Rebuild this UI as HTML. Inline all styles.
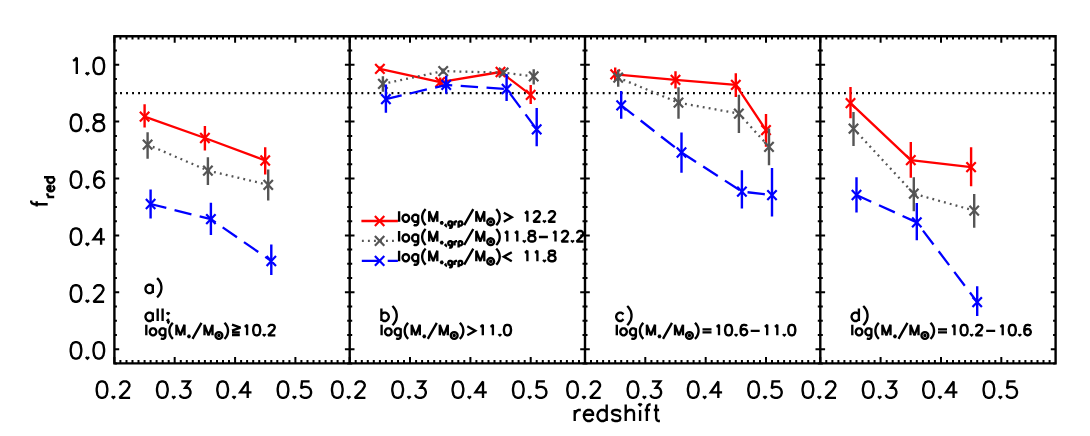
<!DOCTYPE html><html><head><meta charset="utf-8"><title>f_red vs redshift</title><style>html,body{margin:0;padding:0;background:#fff;font-family:"Liberation Sans",sans-serif}svg{display:block}</style></head><body>
<svg width="1090" height="436" viewBox="0 0 1090 436" fill="none" stroke-linecap="butt" stroke-linejoin="round">
<rect width="1090" height="436" fill="#fff"/>
<path d="M114.4 93.2H349.7" stroke="#000" stroke-width="2.3" stroke-dasharray="1.9 4.12" stroke-dashoffset="0.37"/>
<path d="M349.7 93.2H585" stroke="#000" stroke-width="2.3" stroke-dasharray="1.9 4.12" stroke-dashoffset="0.37"/>
<path d="M585 93.2H820.3" stroke="#000" stroke-width="2.3" stroke-dasharray="1.9 4.12" stroke-dashoffset="0.37"/>
<path d="M820.3 93.2H1055.6" stroke="#000" stroke-width="2.3" stroke-dasharray="1.9 4.12" stroke-dashoffset="0.37"/>
<path d="M114.4 363.4v-6.5M114.4 36.3v6.5M120.4 363.4v-3.3M120.4 36.3v3.3M126.5 363.4v-3.3M126.5 36.3v3.3M132.5 363.4v-3.3M132.5 36.3v3.3M138.5 363.4v-3.3M138.5 36.3v3.3M144.6 363.4v-3.3M144.6 36.3v3.3M150.6 363.4v-3.3M150.6 36.3v3.3M156.6 363.4v-3.3M156.6 36.3v3.3M162.7 363.4v-3.3M162.7 36.3v3.3M168.7 363.4v-3.3M168.7 36.3v3.3M174.7 363.4v-6.5M174.7 36.3v6.5M180.8 363.4v-3.3M180.8 36.3v3.3M186.8 363.4v-3.3M186.8 36.3v3.3M192.8 363.4v-3.3M192.8 36.3v3.3M198.9 363.4v-3.3M198.9 36.3v3.3M204.9 363.4v-3.3M204.9 36.3v3.3M210.9 363.4v-3.3M210.9 36.3v3.3M217 363.4v-3.3M217 36.3v3.3M223 363.4v-3.3M223 36.3v3.3M229 363.4v-3.3M229 36.3v3.3M235.1 363.4v-6.5M235.1 36.3v6.5M241.1 363.4v-3.3M241.1 36.3v3.3M247.1 363.4v-3.3M247.1 36.3v3.3M253.2 363.4v-3.3M253.2 36.3v3.3M259.2 363.4v-3.3M259.2 36.3v3.3M265.2 363.4v-3.3M265.2 36.3v3.3M271.3 363.4v-3.3M271.3 36.3v3.3M277.3 363.4v-3.3M277.3 36.3v3.3M283.3 363.4v-3.3M283.3 36.3v3.3M289.4 363.4v-3.3M289.4 36.3v3.3M295.4 363.4v-6.5M295.4 36.3v6.5M301.4 363.4v-3.3M301.4 36.3v3.3M307.5 363.4v-3.3M307.5 36.3v3.3M313.5 363.4v-3.3M313.5 36.3v3.3M319.5 363.4v-3.3M319.5 36.3v3.3M325.6 363.4v-3.3M325.6 36.3v3.3M331.6 363.4v-3.3M331.6 36.3v3.3M337.6 363.4v-3.3M337.6 36.3v3.3M343.7 363.4v-3.3M343.7 36.3v3.3M114.4 363.4h2.5M349.7 363.4h-2.5M114.4 349.2h4.8M349.7 349.2h-4.8M114.4 335h2.5M349.7 335h-2.5M114.4 320.7h2.5M349.7 320.7h-2.5M114.4 306.5h2.5M349.7 306.5h-2.5M114.4 292.3h4.8M349.7 292.3h-4.8M114.4 278.1h2.5M349.7 278.1h-2.5M114.4 263.8h2.5M349.7 263.8h-2.5M114.4 249.6h2.5M349.7 249.6h-2.5M114.4 235.4h4.8M349.7 235.4h-4.8M114.4 221.2h2.5M349.7 221.2h-2.5M114.4 207h2.5M349.7 207h-2.5M114.4 192.7h2.5M349.7 192.7h-2.5M114.4 178.5h4.8M349.7 178.5h-4.8M114.4 164.3h2.5M349.7 164.3h-2.5M114.4 150.1h2.5M349.7 150.1h-2.5M114.4 135.9h2.5M349.7 135.9h-2.5M114.4 121.6h4.8M349.7 121.6h-4.8M114.4 107.4h2.5M349.7 107.4h-2.5M114.4 93.2h2.5M349.7 93.2h-2.5M114.4 79h2.5M349.7 79h-2.5M114.4 64.7h4.8M349.7 64.7h-4.8M114.4 50.5h2.5M349.7 50.5h-2.5M114.4 36.3h2.5M349.7 36.3h-2.5M349.7 363.4v-6.5M349.7 36.3v6.5M355.7 363.4v-3.3M355.7 36.3v3.3M361.8 363.4v-3.3M361.8 36.3v3.3M367.8 363.4v-3.3M367.8 36.3v3.3M373.8 363.4v-3.3M373.8 36.3v3.3M379.9 363.4v-3.3M379.9 36.3v3.3M385.9 363.4v-3.3M385.9 36.3v3.3M391.9 363.4v-3.3M391.9 36.3v3.3M398 363.4v-3.3M398 36.3v3.3M404 363.4v-3.3M404 36.3v3.3M410 363.4v-6.5M410 36.3v6.5M416.1 363.4v-3.3M416.1 36.3v3.3M422.1 363.4v-3.3M422.1 36.3v3.3M428.1 363.4v-3.3M428.1 36.3v3.3M434.2 363.4v-3.3M434.2 36.3v3.3M440.2 363.4v-3.3M440.2 36.3v3.3M446.2 363.4v-3.3M446.2 36.3v3.3M452.3 363.4v-3.3M452.3 36.3v3.3M458.3 363.4v-3.3M458.3 36.3v3.3M464.3 363.4v-3.3M464.3 36.3v3.3M470.4 363.4v-6.5M470.4 36.3v6.5M476.4 363.4v-3.3M476.4 36.3v3.3M482.4 363.4v-3.3M482.4 36.3v3.3M488.5 363.4v-3.3M488.5 36.3v3.3M494.5 363.4v-3.3M494.5 36.3v3.3M500.5 363.4v-3.3M500.5 36.3v3.3M506.6 363.4v-3.3M506.6 36.3v3.3M512.6 363.4v-3.3M512.6 36.3v3.3M518.6 363.4v-3.3M518.6 36.3v3.3M524.7 363.4v-3.3M524.7 36.3v3.3M530.7 363.4v-6.5M530.7 36.3v6.5M536.7 363.4v-3.3M536.7 36.3v3.3M542.8 363.4v-3.3M542.8 36.3v3.3M548.8 363.4v-3.3M548.8 36.3v3.3M554.8 363.4v-3.3M554.8 36.3v3.3M560.9 363.4v-3.3M560.9 36.3v3.3M566.9 363.4v-3.3M566.9 36.3v3.3M572.9 363.4v-3.3M572.9 36.3v3.3M579 363.4v-3.3M579 36.3v3.3M349.7 363.4h2.5M585 363.4h-2.5M349.7 349.2h4.8M585 349.2h-4.8M349.7 335h2.5M585 335h-2.5M349.7 320.7h2.5M585 320.7h-2.5M349.7 306.5h2.5M585 306.5h-2.5M349.7 292.3h4.8M585 292.3h-4.8M349.7 278.1h2.5M585 278.1h-2.5M349.7 263.8h2.5M585 263.8h-2.5M349.7 249.6h2.5M585 249.6h-2.5M349.7 235.4h4.8M585 235.4h-4.8M349.7 221.2h2.5M585 221.2h-2.5M349.7 207h2.5M585 207h-2.5M349.7 192.7h2.5M585 192.7h-2.5M349.7 178.5h4.8M585 178.5h-4.8M349.7 164.3h2.5M585 164.3h-2.5M349.7 150.1h2.5M585 150.1h-2.5M349.7 135.9h2.5M585 135.9h-2.5M349.7 121.6h4.8M585 121.6h-4.8M349.7 107.4h2.5M585 107.4h-2.5M349.7 93.2h2.5M585 93.2h-2.5M349.7 79h2.5M585 79h-2.5M349.7 64.7h4.8M585 64.7h-4.8M349.7 50.5h2.5M585 50.5h-2.5M349.7 36.3h2.5M585 36.3h-2.5M585 363.4v-6.5M585 36.3v6.5M591 363.4v-3.3M591 36.3v3.3M597.1 363.4v-3.3M597.1 36.3v3.3M603.1 363.4v-3.3M603.1 36.3v3.3M609.1 363.4v-3.3M609.1 36.3v3.3M615.2 363.4v-3.3M615.2 36.3v3.3M621.2 363.4v-3.3M621.2 36.3v3.3M627.2 363.4v-3.3M627.2 36.3v3.3M633.3 363.4v-3.3M633.3 36.3v3.3M639.3 363.4v-3.3M639.3 36.3v3.3M645.3 363.4v-6.5M645.3 36.3v6.5M651.4 363.4v-3.3M651.4 36.3v3.3M657.4 363.4v-3.3M657.4 36.3v3.3M663.4 363.4v-3.3M663.4 36.3v3.3M669.5 363.4v-3.3M669.5 36.3v3.3M675.5 363.4v-3.3M675.5 36.3v3.3M681.5 363.4v-3.3M681.5 36.3v3.3M687.6 363.4v-3.3M687.6 36.3v3.3M693.6 363.4v-3.3M693.6 36.3v3.3M699.6 363.4v-3.3M699.6 36.3v3.3M705.7 363.4v-6.5M705.7 36.3v6.5M711.7 363.4v-3.3M711.7 36.3v3.3M717.7 363.4v-3.3M717.7 36.3v3.3M723.8 363.4v-3.3M723.8 36.3v3.3M729.8 363.4v-3.3M729.8 36.3v3.3M735.8 363.4v-3.3M735.8 36.3v3.3M741.9 363.4v-3.3M741.9 36.3v3.3M747.9 363.4v-3.3M747.9 36.3v3.3M753.9 363.4v-3.3M753.9 36.3v3.3M760 363.4v-3.3M760 36.3v3.3M766 363.4v-6.5M766 36.3v6.5M772 363.4v-3.3M772 36.3v3.3M778.1 363.4v-3.3M778.1 36.3v3.3M784.1 363.4v-3.3M784.1 36.3v3.3M790.1 363.4v-3.3M790.1 36.3v3.3M796.2 363.4v-3.3M796.2 36.3v3.3M802.2 363.4v-3.3M802.2 36.3v3.3M808.2 363.4v-3.3M808.2 36.3v3.3M814.3 363.4v-3.3M814.3 36.3v3.3M585 363.4h2.5M820.3 363.4h-2.5M585 349.2h4.8M820.3 349.2h-4.8M585 335h2.5M820.3 335h-2.5M585 320.7h2.5M820.3 320.7h-2.5M585 306.5h2.5M820.3 306.5h-2.5M585 292.3h4.8M820.3 292.3h-4.8M585 278.1h2.5M820.3 278.1h-2.5M585 263.8h2.5M820.3 263.8h-2.5M585 249.6h2.5M820.3 249.6h-2.5M585 235.4h4.8M820.3 235.4h-4.8M585 221.2h2.5M820.3 221.2h-2.5M585 207h2.5M820.3 207h-2.5M585 192.7h2.5M820.3 192.7h-2.5M585 178.5h4.8M820.3 178.5h-4.8M585 164.3h2.5M820.3 164.3h-2.5M585 150.1h2.5M820.3 150.1h-2.5M585 135.9h2.5M820.3 135.9h-2.5M585 121.6h4.8M820.3 121.6h-4.8M585 107.4h2.5M820.3 107.4h-2.5M585 93.2h2.5M820.3 93.2h-2.5M585 79h2.5M820.3 79h-2.5M585 64.7h4.8M820.3 64.7h-4.8M585 50.5h2.5M820.3 50.5h-2.5M585 36.3h2.5M820.3 36.3h-2.5M820.3 363.4v-6.5M820.3 36.3v6.5M826.3 363.4v-3.3M826.3 36.3v3.3M832.4 363.4v-3.3M832.4 36.3v3.3M838.4 363.4v-3.3M838.4 36.3v3.3M844.4 363.4v-3.3M844.4 36.3v3.3M850.5 363.4v-3.3M850.5 36.3v3.3M856.5 363.4v-3.3M856.5 36.3v3.3M862.5 363.4v-3.3M862.5 36.3v3.3M868.6 363.4v-3.3M868.6 36.3v3.3M874.6 363.4v-3.3M874.6 36.3v3.3M880.6 363.4v-6.5M880.6 36.3v6.5M886.7 363.4v-3.3M886.7 36.3v3.3M892.7 363.4v-3.3M892.7 36.3v3.3M898.7 363.4v-3.3M898.7 36.3v3.3M904.8 363.4v-3.3M904.8 36.3v3.3M910.8 363.4v-3.3M910.8 36.3v3.3M916.8 363.4v-3.3M916.8 36.3v3.3M922.9 363.4v-3.3M922.9 36.3v3.3M928.9 363.4v-3.3M928.9 36.3v3.3M934.9 363.4v-3.3M934.9 36.3v3.3M941 363.4v-6.5M941 36.3v6.5M947 363.4v-3.3M947 36.3v3.3M953 363.4v-3.3M953 36.3v3.3M959.1 363.4v-3.3M959.1 36.3v3.3M965.1 363.4v-3.3M965.1 36.3v3.3M971.1 363.4v-3.3M971.1 36.3v3.3M977.2 363.4v-3.3M977.2 36.3v3.3M983.2 363.4v-3.3M983.2 36.3v3.3M989.2 363.4v-3.3M989.2 36.3v3.3M995.3 363.4v-3.3M995.3 36.3v3.3M1001.3 363.4v-6.5M1001.3 36.3v6.5M1007.3 363.4v-3.3M1007.3 36.3v3.3M1013.4 363.4v-3.3M1013.4 36.3v3.3M1019.4 363.4v-3.3M1019.4 36.3v3.3M1025.4 363.4v-3.3M1025.4 36.3v3.3M1031.5 363.4v-3.3M1031.5 36.3v3.3M1037.5 363.4v-3.3M1037.5 36.3v3.3M1043.5 363.4v-3.3M1043.5 36.3v3.3M1049.6 363.4v-3.3M1049.6 36.3v3.3M820.3 363.4h2.5M1055.6 363.4h-2.5M820.3 349.2h4.8M1055.6 349.2h-4.8M820.3 335h2.5M1055.6 335h-2.5M820.3 320.7h2.5M1055.6 320.7h-2.5M820.3 306.5h2.5M1055.6 306.5h-2.5M820.3 292.3h4.8M1055.6 292.3h-4.8M820.3 278.1h2.5M1055.6 278.1h-2.5M820.3 263.8h2.5M1055.6 263.8h-2.5M820.3 249.6h2.5M1055.6 249.6h-2.5M820.3 235.4h4.8M1055.6 235.4h-4.8M820.3 221.2h2.5M1055.6 221.2h-2.5M820.3 207h2.5M1055.6 207h-2.5M820.3 192.7h2.5M1055.6 192.7h-2.5M820.3 178.5h4.8M1055.6 178.5h-4.8M820.3 164.3h2.5M1055.6 164.3h-2.5M820.3 150.1h2.5M1055.6 150.1h-2.5M820.3 135.9h2.5M1055.6 135.9h-2.5M820.3 121.6h4.8M1055.6 121.6h-4.8M820.3 107.4h2.5M1055.6 107.4h-2.5M820.3 93.2h2.5M1055.6 93.2h-2.5M820.3 79h2.5M1055.6 79h-2.5M820.3 64.7h4.8M1055.6 64.7h-4.8M820.3 50.5h2.5M1055.6 50.5h-2.5M820.3 36.3h2.5M1055.6 36.3h-2.5" stroke="#000" stroke-width="2.0"/>
<path d="M114.4 36.3H349.7V363.4H114.4ZM349.7 36.3H585V363.4H349.7ZM585 36.3H820.3V363.4H585ZM820.3 36.3H1055.6V363.4H820.3Z" stroke="#000" stroke-width="2.4" stroke-linejoin="miter"/>
<path d="M144.6 104.3V127.6M204.9 126V150.6M265.2 147.2V174.6" stroke="#ff0000" stroke-width="2.4"/>
<path d="M139.9 111.7L149.3 121.5M139.9 121.5L149.3 111.7M200.2 133.1L209.6 142.9M200.2 142.9L209.6 133.1M260.5 155.6L269.9 165.4M260.5 165.4L269.9 155.6" stroke="#ff0000" stroke-width="2.2"/>
<path d="M144.6 116.6L204.9 138L265.2 160.5" stroke="#ff0000" stroke-width="2.3"/>
<path d="M147.6 132.2V158.8M207.9 157.3V184.9M268.2 169.6V200.5" stroke="#555555" stroke-width="2.4"/>
<path d="M142.9 139.8L152.3 149.6M142.9 149.6L152.3 139.8M203.2 165.7L212.6 175.5M203.2 175.5L212.6 165.7M263.6 179.9L272.9 189.7M263.6 189.7L272.9 179.9" stroke="#555555" stroke-width="2.2"/>
<path d="M147.6 144.7L207.9 170.6L268.2 184.8" stroke="#555555" stroke-width="2.3" stroke-dasharray="1.9 4.12" stroke-dashoffset="0.37"/>
<path d="M150.6 189.5V218.4M210.9 202.7V235.1M271.3 244.5V275" stroke="#0000ff" stroke-width="2.4"/>
<path d="M145.9 199.1L155.3 208.9M145.9 208.9L155.3 199.1M206.2 214.3L215.6 224.1M206.2 224.1L215.6 214.3M266.6 256.1L276 265.9M266.6 265.9L276 256.1" stroke="#0000ff" stroke-width="2.2"/>
<path d="M150.6 204L210.9 219.2L271.3 261" stroke="#0000ff" stroke-width="2.3" stroke-dasharray="17.4 8.5" stroke-dashoffset="1.2"/>
<path d="M379.9 66.5V71.1M440.2 77.5V86.7M500.5 68.5V75.5M530.7 85.1V104.1" stroke="#ff0000" stroke-width="2.4"/>
<path d="M375.2 63.9L384.6 73.7M375.2 73.7L384.6 63.9M435.5 77.2L444.9 87M435.5 87L444.9 77.2M495.8 67.1L505.2 76.9M495.8 76.9L505.2 67.1M526 89.9L535.4 99.7M526 99.7L535.4 89.9" stroke="#ff0000" stroke-width="2.2"/>
<path d="M379.9 68.8L440.2 82.1L500.5 72L530.7 94.8" stroke="#ff0000" stroke-width="2.3"/>
<path d="M382.9 76.2V91.8M443.2 68.5V73.7M503.6 70V75.4M533.7 69.3V84.4" stroke="#555555" stroke-width="2.4"/>
<path d="M378.2 79L387.6 88.8M378.2 88.8L387.6 79M438.5 66.2L447.9 76M438.5 76L447.9 66.2M498.9 67.8L508.3 77.6M498.9 77.6L508.3 67.8M529 71.5L538.4 81.3M529 81.3L538.4 71.5" stroke="#555555" stroke-width="2.2"/>
<path d="M382.9 83.9L443.2 71.1L503.6 72.7L533.7 76.4" stroke="#555555" stroke-width="2.3" stroke-dasharray="1.9 4.12" stroke-dashoffset="0.37"/>
<path d="M385.9 84.5V112.8M446.2 75.7V93.7M506.6 74.1V101M536.7 108V146.3" stroke="#0000ff" stroke-width="2.4"/>
<path d="M381.2 94.3L390.6 104.1M381.2 104.1L390.6 94.3M441.5 80L450.9 89.8M441.5 89.8L450.9 80M501.9 84.1L511.3 93.9M501.9 93.9L511.3 84.1M532 124.5L541.4 134.3M532 134.3L541.4 124.5" stroke="#0000ff" stroke-width="2.2"/>
<path d="M385.9 99.2L446.2 84.9L506.6 89L536.7 129.4" stroke="#0000ff" stroke-width="2.3" stroke-dasharray="17.4 8.5" stroke-dashoffset="1.2"/>
<path d="M615.2 67.6V81M675.5 71.2V88.5M735.8 73.2V97M766 114.1V146.8" stroke="#ff0000" stroke-width="2.4"/>
<path d="M610.5 69.4L619.9 79.2M610.5 79.2L619.9 69.4M670.8 74.9L680.2 84.7M670.8 84.7L680.2 74.9M731.1 80L740.5 89.8M731.1 89.8L740.5 80M761.3 125.2L770.7 135M761.3 135L770.7 125.2" stroke="#ff0000" stroke-width="2.2"/>
<path d="M615.2 74.3L675.5 79.8L735.8 84.9L766 130.1" stroke="#ff0000" stroke-width="2.3"/>
<path d="M618.2 69.7V86.8M678.5 87.3V118.7M738.9 94.7V133M769 128.4V165.3" stroke="#555555" stroke-width="2.4"/>
<path d="M613.5 72.7L622.9 82.5M613.5 82.5L622.9 72.7M673.8 97.8L683.2 107.6M673.8 107.6L683.2 97.8M734.1 108.7L743.6 118.5M734.1 118.5L743.6 108.7M764.3 141.9L773.7 151.7M764.3 151.7L773.7 141.9" stroke="#555555" stroke-width="2.2"/>
<path d="M618.2 77.6L678.5 102.7L738.9 113.6L769 146.8" stroke="#555555" stroke-width="2.3" stroke-dasharray="1.9 4.12" stroke-dashoffset="0.37"/>
<path d="M621.2 91V118.7M681.5 132.5V172.8M741.9 170.2V208.6M772 167.9V216.6" stroke="#0000ff" stroke-width="2.4"/>
<path d="M616.5 100.4L625.9 110.2M616.5 110.2L625.9 100.4M676.8 147.6L686.2 157.4M676.8 157.4L686.2 147.6M737.2 186.7L746.6 196.5M737.2 196.5L746.6 186.7M767.3 190.2L776.7 200M767.3 200L776.7 190.2" stroke="#0000ff" stroke-width="2.2"/>
<path d="M621.2 105.3L681.5 152.5L741.9 191.6L772 195.1" stroke="#0000ff" stroke-width="2.3" stroke-dasharray="17.4 8.5" stroke-dashoffset="1.2"/>
<path d="M850.5 87.1V118.2M910.8 142V177.8M971.1 147.3V186.3" stroke="#ff0000" stroke-width="2.4"/>
<path d="M845.8 98.3L855.2 108.1M845.8 108.1L855.2 98.3M906.1 155.3L915.5 165.1M906.1 165.1L915.5 155.3M966.4 162.2L975.8 172M966.4 172L975.8 162.2" stroke="#ff0000" stroke-width="2.2"/>
<path d="M850.5 103.2L910.8 160.2L971.1 167.1" stroke="#ff0000" stroke-width="2.3"/>
<path d="M853.5 112V146.1M913.8 177.3V211.3M974.2 193.9V227.8" stroke="#555555" stroke-width="2.4"/>
<path d="M848.8 123.7L858.2 133.5M848.8 133.5L858.2 123.7M909.1 188.8L918.5 198.6M909.1 198.6L918.5 188.8M969.5 205.7L978.9 215.5M969.5 215.5L978.9 205.7" stroke="#555555" stroke-width="2.2"/>
<path d="M853.5 128.6L913.8 193.7L974.2 210.6" stroke="#555555" stroke-width="2.3" stroke-dasharray="1.9 4.12" stroke-dashoffset="0.37"/>
<path d="M856.5 177.3V212.6M916.8 203V240.3M977.2 286.2V316" stroke="#0000ff" stroke-width="2.4"/>
<path d="M851.8 190.1L861.2 199.9M851.8 199.9L861.2 190.1M912.1 217.5L921.5 227.3M912.1 227.3L921.5 217.5M972.5 297.2L981.9 307M972.5 307L981.9 297.2" stroke="#0000ff" stroke-width="2.2"/>
<path d="M856.5 195L916.8 222.4L977.2 302.1" stroke="#0000ff" stroke-width="2.3" stroke-dasharray="17.4 8.5" stroke-dashoffset="1.2"/>
<path d="M361.4 221H397.9" stroke="#ff0000" stroke-width="2.3"/>
<path d="M374.9 216.1L384.3 225.9M374.9 225.9L384.3 216.1" stroke="#ff0000" stroke-width="2.2"/>
<path d="M361.4 240.9H397.9" stroke="#555555" stroke-width="2.3" stroke-dasharray="1.9 4.12" stroke-dashoffset="-0.5"/>
<path d="M374.9 236L384.3 245.8M374.9 245.8L384.3 236" stroke="#555555" stroke-width="2.2"/>
<path d="M361.4 260.9H397.9" stroke="#0000ff" stroke-width="2.3" stroke-dasharray="17.4 8.5" stroke-dashoffset="-0.4"/>
<path d="M374.9 256L384.3 265.8M374.9 265.8L384.3 256" stroke="#0000ff" stroke-width="2.2"/>
<path d="M97.4 384.6 96.7 388.5 96.7 390.8 97.4 394.8 99 397.1 101.2 397.9 102.8 397.9 105 397.1 106.6 394.8 107.3 390.8 107.3 388.5 106.6 384.6 105 382.2 102.8 381.4 101.2 381.4 99 382.2ZM113.4 396.3 112.6 397.1 113.4 397.9 114.2 397.1 113.4 396.3M130.1 397.9 119.5 397.9 127.1 390 128.6 387.7 129.4 386.1 129.4 384.6 128.6 383 127.8 382.2 126.3 381.4 123.3 381.4 121.8 382.2 121 383 120.2 384.6 120.2 385.3M157.8 384.6 157 388.5 157 390.8 157.8 394.8 159.3 397.1 161.6 397.9 163.1 397.9 165.4 397.1 166.9 394.8 167.7 390.8 167.7 388.5 166.9 384.6 165.4 382.2 163.1 381.4 161.6 381.4 159.3 382.2ZM173.7 396.3 173 397.1 173.7 397.9 174.5 397.1 173.7 396.3M181.3 381.4 189.7 381.4 185.1 387.7 187.4 387.7 188.9 388.5 189.7 389.3 190.5 391.6 190.5 393.2 189.7 395.5 188.2 397.1 185.9 397.9 183.6 397.9 181.3 397.1 180.6 396.3 179.8 394.8M218.1 384.6 217.3 388.5 217.3 390.8 218.1 394.8 219.6 397.1 221.9 397.9 223.4 397.9 225.7 397.1 227.2 394.8 228 390.8 228 388.5 227.2 384.6 225.7 382.2 223.4 381.4 221.9 381.4 219.6 382.2ZM234.1 396.3 233.3 397.1 234.1 397.9 234.8 397.1 234.1 396.3M247.7 397.9 247.7 381.4 240.1 392.4 251.5 392.4M278.4 384.6 277.7 388.5 277.7 390.8 278.4 394.8 280 397.1 282.2 397.9 283.8 397.9 286 397.1 287.6 394.8 288.3 390.8 288.3 388.5 287.6 384.6 286 382.2 283.8 381.4 282.2 381.4 280 382.2ZM294.4 396.3 293.6 397.1 294.4 397.9 295.2 397.1 294.4 396.3M309.6 381.4 302 381.4 301.2 388.5 302 387.7 304.3 386.9 306.6 386.9 308.8 387.7 310.4 389.3 311.1 391.6 311.1 393.2 310.4 395.5 308.8 397.1 306.6 397.9 304.3 397.9 302 397.1 301.2 396.3 300.5 394.8M332.7 384.6 332 388.5 332 390.8 332.7 394.8 334.3 397.1 336.5 397.9 338.1 397.9 340.3 397.1 341.9 394.8 342.6 390.8 342.6 388.5 341.9 384.6 340.3 382.2 338.1 381.4 336.5 381.4 334.3 382.2ZM348.7 396.3 347.9 397.1 348.7 397.9 349.5 397.1 348.7 396.3M365.4 397.9 354.8 397.9 362.4 390 363.9 387.7 364.7 386.1 364.7 384.6 363.9 383 363.1 382.2 361.6 381.4 358.6 381.4 357.1 382.2 356.3 383 355.5 384.6 355.5 385.3M393.1 384.6 392.3 388.5 392.3 390.8 393.1 394.8 394.6 397.1 396.9 397.9 398.4 397.9 400.7 397.1 402.2 394.8 403 390.8 403 388.5 402.2 384.6 400.7 382.2 398.4 381.4 396.9 381.4 394.6 382.2ZM409 396.3 408.3 397.1 409 397.9 409.8 397.1 409 396.3M416.6 381.4 425 381.4 420.4 387.7 422.7 387.7 424.2 388.5 425 389.3 425.8 391.6 425.8 393.2 425 395.5 423.5 397.1 421.2 397.9 418.9 397.9 416.6 397.1 415.9 396.3 415.1 394.8M453.4 384.6 452.6 388.5 452.6 390.8 453.4 394.8 454.9 397.1 457.2 397.9 458.7 397.9 461 397.1 462.5 394.8 463.3 390.8 463.3 388.5 462.5 384.6 461 382.2 458.7 381.4 457.2 381.4 454.9 382.2ZM469.4 396.3 468.6 397.1 469.4 397.9 470.1 397.1 469.4 396.3M483 397.9 483 381.4 475.4 392.4 486.8 392.4M513.7 384.6 513 388.5 513 390.8 513.7 394.8 515.3 397.1 517.5 397.9 519.1 397.9 521.3 397.1 522.9 394.8 523.6 390.8 523.6 388.5 522.9 384.6 521.3 382.2 519.1 381.4 517.5 381.4 515.3 382.2ZM529.7 396.3 528.9 397.1 529.7 397.9 530.5 397.1 529.7 396.3M544.9 381.4 537.3 381.4 536.5 388.5 537.3 387.7 539.6 386.9 541.9 386.9 544.1 387.7 545.7 389.3 546.4 391.6 546.4 393.2 545.7 395.5 544.1 397.1 541.9 397.9 539.6 397.9 537.3 397.1 536.5 396.3 535.8 394.8M568 384.6 567.3 388.5 567.3 390.8 568 394.8 569.6 397.1 571.8 397.9 573.4 397.9 575.6 397.1 577.2 394.8 577.9 390.8 577.9 388.5 577.2 384.6 575.6 382.2 573.4 381.4 571.8 381.4 569.6 382.2ZM584 396.3 583.2 397.1 584 397.9 584.8 397.1 584 396.3M600.7 397.9 590.1 397.9 597.7 390 599.2 387.7 600 386.1 600 384.6 599.2 383 598.4 382.2 596.9 381.4 593.9 381.4 592.4 382.2 591.6 383 590.8 384.6 590.8 385.3M628.4 384.6 627.6 388.5 627.6 390.8 628.4 394.8 629.9 397.1 632.2 397.9 633.7 397.9 636 397.1 637.5 394.8 638.3 390.8 638.3 388.5 637.5 384.6 636 382.2 633.7 381.4 632.2 381.4 629.9 382.2ZM644.3 396.3 643.6 397.1 644.3 397.9 645.1 397.1 644.3 396.3M651.9 381.4 660.3 381.4 655.7 387.7 658 387.7 659.5 388.5 660.3 389.3 661.1 391.6 661.1 393.2 660.3 395.5 658.8 397.1 656.5 397.9 654.2 397.9 651.9 397.1 651.2 396.3 650.4 394.8M688.7 384.6 687.9 388.5 687.9 390.8 688.7 394.8 690.2 397.1 692.5 397.9 694 397.9 696.3 397.1 697.8 394.8 698.6 390.8 698.6 388.5 697.8 384.6 696.3 382.2 694 381.4 692.5 381.4 690.2 382.2ZM704.7 396.3 703.9 397.1 704.7 397.9 705.4 397.1 704.7 396.3M718.3 397.9 718.3 381.4 710.7 392.4 722.1 392.4M749 384.6 748.3 388.5 748.3 390.8 749 394.8 750.6 397.1 752.8 397.9 754.4 397.9 756.6 397.1 758.2 394.8 758.9 390.8 758.9 388.5 758.2 384.6 756.6 382.2 754.4 381.4 752.8 381.4 750.6 382.2ZM765 396.3 764.2 397.1 765 397.9 765.8 397.1 765 396.3M780.2 381.4 772.6 381.4 771.8 388.5 772.6 387.7 774.9 386.9 777.2 386.9 779.4 387.7 781 389.3 781.7 391.6 781.7 393.2 781 395.5 779.4 397.1 777.2 397.9 774.9 397.9 772.6 397.1 771.8 396.3 771.1 394.8M803.3 384.6 802.6 388.5 802.6 390.8 803.3 394.8 804.9 397.1 807.1 397.9 808.7 397.9 810.9 397.1 812.5 394.8 813.2 390.8 813.2 388.5 812.5 384.6 810.9 382.2 808.7 381.4 807.1 381.4 804.9 382.2ZM819.3 396.3 818.5 397.1 819.3 397.9 820.1 397.1 819.3 396.3M836 397.9 825.4 397.9 833 390 834.5 387.7 835.3 386.1 835.3 384.6 834.5 383 833.7 382.2 832.2 381.4 829.2 381.4 827.7 382.2 826.9 383 826.1 384.6 826.1 385.3M863.7 384.6 862.9 388.5 862.9 390.8 863.7 394.8 865.2 397.1 867.5 397.9 869 397.9 871.3 397.1 872.8 394.8 873.6 390.8 873.6 388.5 872.8 384.6 871.3 382.2 869 381.4 867.5 381.4 865.2 382.2ZM879.6 396.3 878.9 397.1 879.6 397.9 880.4 397.1 879.6 396.3M887.2 381.4 895.6 381.4 891 387.7 893.3 387.7 894.8 388.5 895.6 389.3 896.4 391.6 896.4 393.2 895.6 395.5 894.1 397.1 891.8 397.9 889.5 397.9 887.2 397.1 886.5 396.3 885.7 394.8M924 384.6 923.2 388.5 923.2 390.8 924 394.8 925.5 397.1 927.8 397.9 929.3 397.9 931.6 397.1 933.1 394.8 933.9 390.8 933.9 388.5 933.1 384.6 931.6 382.2 929.3 381.4 927.8 381.4 925.5 382.2ZM940 396.3 939.2 397.1 940 397.9 940.7 397.1 940 396.3M953.6 397.9 953.6 381.4 946 392.4 957.4 392.4M984.3 384.6 983.6 388.5 983.6 390.8 984.3 394.8 985.9 397.1 988.1 397.9 989.7 397.9 991.9 397.1 993.5 394.8 994.2 390.8 994.2 388.5 993.5 384.6 991.9 382.2 989.7 381.4 988.1 381.4 985.9 382.2ZM1000.3 396.3 999.5 397.1 1000.3 397.9 1001.1 397.1 1000.3 396.3M1015.5 381.4 1007.9 381.4 1007.1 388.5 1007.9 387.7 1010.2 386.9 1012.5 386.9 1014.7 387.7 1016.3 389.3 1017 391.6 1017 393.2 1016.3 395.5 1014.7 397.1 1012.5 397.9 1010.2 397.9 1007.9 397.1 1007.1 396.3 1006.4 394.8M71.4 345.2 70.7 349.2 70.7 351.5 71.4 355.4 73 357.8 75.2 358.6 76.8 358.6 79 357.8 80.6 355.4 81.3 351.5 81.3 349.2 80.6 345.2 79 342.9 76.8 342.1 75.2 342.1 73 342.9ZM87.4 357 86.6 357.8 87.4 358.6 88.2 357.8 87.4 357M94.2 345.2 93.5 349.2 93.5 351.5 94.2 355.4 95.8 357.8 98 358.6 99.6 358.6 101.8 357.8 103.4 355.4 104.1 351.5 104.1 349.2 103.4 345.2 101.8 342.9 99.6 342.1 98 342.1 95.8 342.9ZM71.4 288.3 70.7 292.3 70.7 294.6 71.4 298.6 73 300.9 75.2 301.7 76.8 301.7 79 300.9 80.6 298.6 81.3 294.6 81.3 292.3 80.6 288.3 79 286 76.8 285.2 75.2 285.2 73 286ZM87.4 300.1 86.6 300.9 87.4 301.7 88.2 300.9 87.4 300.1M104.1 301.7 93.5 301.7 101.1 293.8 102.6 291.5 103.4 289.9 103.4 288.3 102.6 286.8 101.8 286 100.3 285.2 97.3 285.2 95.8 286 95 286.8 94.2 288.3 94.2 289.1M71.4 231.5 70.7 235.4 70.7 237.7 71.4 241.7 73 244 75.2 244.8 76.8 244.8 79 244 80.6 241.7 81.3 237.7 81.3 235.4 80.6 231.5 79 229.1 76.8 228.3 75.2 228.3 73 229.1ZM87.4 243.2 86.6 244 87.4 244.8 88.2 244 87.4 243.2M101.1 244.8 101.1 228.3 93.5 239.3 104.9 239.3M71.4 174.6 70.7 178.5 70.7 180.9 71.4 184.8 73 187.1 75.2 187.9 76.8 187.9 79 187.1 80.6 184.8 81.3 180.9 81.3 178.5 80.6 174.6 79 172.2 76.8 171.4 75.2 171.4 73 172.2ZM87.4 186.3 86.6 187.1 87.4 187.9 88.2 187.1 87.4 186.3M94.2 182.4 94.2 178.5 95 174.6 96.5 172.2 98.8 171.4 100.3 171.4 102.6 172.2 103.4 173.8M94.2 182.4 95 185.6 96.5 187.1 98.8 187.9 99.6 187.9 101.8 187.1 103.4 185.6 104.1 183.2 104.1 182.4 103.4 180.1 101.8 178.5 99.6 177.7 98.8 177.7 96.5 178.5 95 180.1ZM71.4 117.7 70.7 121.6 70.7 124 71.4 127.9 73 130.2 75.2 131 76.8 131 79 130.2 80.6 127.9 81.3 124 81.3 121.6 80.6 117.7 79 115.3 76.8 114.5 75.2 114.5 73 115.3ZM87.4 129.5 86.6 130.2 87.4 131 88.2 130.2 87.4 129.5M96.5 120.8 99.6 121.6 101.8 122.4 103.4 124 104.1 125.5 104.1 127.9 103.4 129.5 102.6 130.2 100.3 131 97.3 131 95 130.2 94.2 129.5 93.5 127.9 93.5 125.5 94.2 124 95.8 122.4 98 121.6 101.1 120.8 102.6 120 103.4 118.5 103.4 116.9 102.6 115.3 100.3 114.5 97.3 114.5 95 115.3 94.2 116.9 94.2 118.5 95 120ZM76.8 74.1 76.8 57.7 74.5 60 73 60.8M87.4 72.6 86.6 73.4 87.4 74.1 88.2 73.4 87.4 72.6M94.2 60.8 93.5 64.7 93.5 67.1 94.2 71 95.8 73.4 98 74.1 99.6 74.1 101.8 73.4 103.4 71 104.1 67.1 104.1 64.7 103.4 60.8 101.8 58.4 99.6 57.7 98 57.7 95.8 58.4ZM574.7 410 574.7 421M574.7 414.7 575.5 412.4 577 410.8 578.5 410 580.8 410M583.9 414.7 593 414.7 593 413.1 592.2 411.6 591.5 410.8 589.9 410 587.7 410 586.1 410.8 584.6 412.4 583.9 414.7 583.9 416.3 584.6 418.6 586.1 420.2 587.7 421 589.9 421 591.5 420.2 593 418.6M606.7 404.5 606.7 421M606.7 412.4 605.1 410.8 603.6 410 601.3 410 599.8 410.8 598.3 412.4 597.5 414.7 597.5 416.3 598.3 418.6 599.8 420.2 601.3 421 603.6 421 605.1 420.2 606.7 418.6M620.3 412.4 619.6 410.8 617.3 410 615 410 612.7 410.8 612 412.4 612.7 413.9 614.3 414.7 618.1 415.5 619.6 416.3 620.3 417.9 620.3 418.6 619.6 420.2 617.3 421 615 421 612.7 420.2 612 418.6M625.7 404.5 625.7 421M634 421 634 413.1 633.3 410.8 631.7 410 629.5 410 627.9 410.8 625.7 413.1M640.1 410 640.1 421M640.1 403.7 639.3 404.5 640.1 405.3 640.9 404.5 640.1 403.7M646.9 421 646.9 407.7 647.7 405.3 649.2 404.5 650.7 404.5M644.7 410 650 410M656.1 404.5 656.1 417.9 656.8 420.2 658.3 421 659.9 421M653.8 410 659.1 410" stroke="#000" stroke-width="2.35" stroke-linejoin="miter" stroke-miterlimit="2.5"/>
<path d="M3.8 0 3.8 -13.3 4.6 -15.7 6.1 -16.5 7.6 -16.5M1.5 -11 6.8 -11M11 -0.3 11 6.5M11 2.6 11.5 1.1 12.4 0.2 13.4 -0.3 14.8 -0.3M16.7 2.6 22.3 2.6 22.3 1.6 21.8 0.7 21.4 0.2 20.4 -0.3 19 -0.3 18.1 0.2 17.1 1.1 16.7 2.6 16.7 3.6 17.1 5 18.1 6 19 6.5 20.4 6.5 21.4 6 22.3 5M30.8 -3.7 30.8 6.5M30.8 1.1 29.9 0.2 28.9 -0.3 27.5 -0.3 26.6 0.2 25.6 1.1 25.1 2.6 25.1 3.6 25.6 5 26.6 6 27.5 6.5 28.9 6.5 29.9 6 30.8 5" transform="translate(47.7 208.0) rotate(-90)" stroke="#000" stroke-width="2.35" stroke-linejoin="miter" stroke-miterlimit="2.5"/>
<path d="M399.1 211.2 399.1 221.7M403.1 216.2 402.6 217.7 402.6 218.7 403.1 220.2 404.1 221.2 405.1 221.7 406.6 221.7 407.6 221.2 408.6 220.2 409.1 218.7 409.1 217.7 408.6 216.2 407.6 215.2 406.6 214.7 405.1 214.7 404.1 215.2ZM418.2 214.7 418.2 222.7 417.7 224.2 417.2 224.7 416.2 225.2 414.7 225.2 413.7 224.7M418.2 216.2 417.2 215.2 416.2 214.7 414.7 214.7 413.7 215.2 412.7 216.2 412.2 217.7 412.2 218.7 412.7 220.2 413.7 221.2 414.7 221.7 416.2 221.7 417.2 221.2 418.2 220.2M425.7 209.2 424.7 210.2 423.7 211.7 422.7 213.7 422.2 216.2 422.2 218.2 422.7 220.7 423.7 222.7 424.7 224.2 425.7 225.2M429.2 221.7 429.2 211.2 433.2 221.7 437.3 211.2 437.3 221.7M441.8 220.9 441.8 224.7M440.2 221.9 443.3 223.7M443.3 221.9 440.2 223.7M446.1 225.3 446.1 225.9 445.8 226.5 445.5 226.8M446.1 225.3 445.8 225 445.5 225.3 445.8 225.6 446.1 225.3M452 221.3 452 226.2 451.7 227.2 451.4 227.5 450.8 227.8 449.9 227.8 449.2 227.5M452 222.2 451.4 221.6 450.8 221.3 449.9 221.3 449.2 221.6 448.6 222.2 448.3 223.1 448.3 223.7 448.6 224.7 449.2 225.3 449.9 225.6 450.8 225.6 451.4 225.3 452 224.7M454.5 221.3 454.5 225.6M454.5 223.1 454.8 222.2 455.5 221.6 456.1 221.3 457 221.3M458.6 221.3 458.6 227.8M458.6 222.2 459.2 221.6 459.8 221.3 460.7 221.3 461.4 221.6 462 222.2 462.3 223.1 462.3 223.7 462 224.7 461.4 225.3 460.7 225.6 459.8 225.6 459.2 225.3 458.6 224.7M473.3 209.2 464.2 225.2M476.3 221.7 476.3 211.2 480.3 221.7 484.3 211.2 484.3 221.7M494.1 221.9 493.8 223.2 493.1 224.3 492 225 490.7 225.3 489.4 225 488.3 224.3 487.5 223.2 487.3 221.9 487.5 220.6 488.3 219.5 489.4 218.7 490.7 218.5 492 218.7 493.1 219.5 493.8 220.6ZM491.2 221.9 491.1 222.3 490.7 222.4 490.3 222.3 490.2 221.9 490.3 221.5 490.7 221.4 491.1 221.5ZM496.2 209.2 497.2 210.2 498.2 211.7 499.2 213.7 499.7 216.2 499.7 218.2 499.2 220.7 498.2 222.7 497.2 224.2 496.2 225.2M503.8 212.7 511.8 217.2 503.8 221.7M527.4 221.7 527.4 211.2 525.9 212.7 524.8 213.2M540.4 221.7 533.4 221.7 538.4 216.7 539.4 215.2 539.9 214.2 539.9 213.2 539.4 212.2 538.9 211.7 537.9 211.2 535.9 211.2 534.9 211.7 534.4 212.2 533.9 213.2 533.9 213.7M544.4 220.7 543.9 221.2 544.4 221.7 544.9 221.2 544.4 220.7M555.5 221.7 548.4 221.7 553.5 216.7 554.5 215.2 555 214.2 555 213.2 554.5 212.2 554 211.7 553 211.2 551 211.2 549.9 211.7 549.4 212.2 548.9 213.2 548.9 213.7M399.1 231 399.1 241.5M403.1 236 402.6 237.5 402.6 238.5 403.1 240 404.1 241 405.1 241.5 406.6 241.5 407.6 241 408.6 240 409.1 238.5 409.1 237.5 408.6 236 407.6 235 406.6 234.5 405.1 234.5 404.1 235ZM418.2 234.5 418.2 242.5 417.7 244 417.2 244.5 416.2 245 414.7 245 413.7 244.5M418.2 236 417.2 235 416.2 234.5 414.7 234.5 413.7 235 412.7 236 412.2 237.5 412.2 238.5 412.7 240 413.7 241 414.7 241.5 416.2 241.5 417.2 241 418.2 240M425.7 229 424.7 230 423.7 231.5 422.7 233.5 422.2 236 422.2 238 422.7 240.5 423.7 242.5 424.7 244 425.7 245M429.2 241.5 429.2 231 433.2 241.5 437.3 231 437.3 241.5M441.8 240.8 441.8 244.5M440.2 241.7 443.3 243.5M443.3 241.7 440.2 243.5M446.1 245.1 446.1 245.7 445.8 246.3 445.5 246.6M446.1 245.1 445.8 244.8 445.5 245.1 445.8 245.4 446.1 245.1M452 241.1 452 246 451.7 247 451.4 247.3 450.8 247.6 449.9 247.6 449.2 247.3M452 242 451.4 241.4 450.8 241.1 449.9 241.1 449.2 241.4 448.6 242 448.3 242.9 448.3 243.5 448.6 244.5 449.2 245.1 449.9 245.4 450.8 245.4 451.4 245.1 452 244.5M454.5 241.1 454.5 245.4M454.5 242.9 454.8 242 455.5 241.4 456.1 241.1 457 241.1M458.6 241.1 458.6 247.6M458.6 242 459.2 241.4 459.8 241.1 460.7 241.1 461.4 241.4 462 242 462.3 242.9 462.3 243.5 462 244.5 461.4 245.1 460.7 245.4 459.8 245.4 459.2 245.1 458.6 244.5M473.3 229 464.2 245M476.3 241.5 476.3 231 480.3 241.5 484.3 231 484.3 241.5M494.1 241.7 493.8 243 493.1 244.1 492 244.8 490.7 245.1 489.4 244.8 488.3 244.1 487.5 243 487.3 241.7 487.5 240.4 488.3 239.3 489.4 238.5 490.7 238.3 492 238.5 493.1 239.3 493.8 240.4ZM491.2 241.7 491.1 242.1 490.7 242.2 490.3 242.1 490.2 241.7 490.3 241.3 490.7 241.2 491.1 241.3ZM496.2 229 497.2 230 498.2 231.5 499.2 233.5 499.7 236 499.7 238 499.2 240.5 498.2 242.5 497.2 244 496.2 245M507.3 241.5 507.3 231 505.8 232.5 504.8 233M517.3 241.5 517.3 231 515.8 232.5 514.8 233M524.3 240.5 523.8 241 524.3 241.5 524.8 241 524.3 240.5M530.4 235 532.4 235.5 533.9 236 534.9 237 535.4 238 535.4 239.5 534.9 240.5 534.4 241 532.9 241.5 530.9 241.5 529.4 241 528.9 240.5 528.4 239.5 528.4 238 528.9 237 529.9 236 531.4 235.5 533.4 235 534.4 234.5 534.9 233.5 534.9 232.5 534.4 231.5 532.9 231 530.9 231 529.4 231.5 528.9 232.5 528.9 233.5 529.4 234.5ZM538.9 237 547.9 237M555.5 241.5 555.5 231 554 232.5 553 233M568.5 241.5 561.5 241.5 566.5 236.5 567.5 235 568 234 568 233 567.5 232 567 231.5 566 231 564 231 563 231.5 562.5 232 562 233 562 233.5M572.5 240.5 572 241 572.5 241.5 573 241 572.5 240.5M583.6 241.5 576.6 241.5 581.6 236.5 582.6 235 583.1 234 583.1 233 582.6 232 582.1 231.5 581.1 231 579.1 231 578.1 231.5 577.6 232 577.1 233 577.1 233.5M399.1 250.7 399.1 261.2M403.1 255.7 402.6 257.2 402.6 258.2 403.1 259.7 404.1 260.7 405.1 261.2 406.6 261.2 407.6 260.7 408.6 259.7 409.1 258.2 409.1 257.2 408.6 255.7 407.6 254.7 406.6 254.2 405.1 254.2 404.1 254.7ZM418.2 254.2 418.2 262.2 417.7 263.7 417.2 264.2 416.2 264.7 414.7 264.7 413.7 264.2M418.2 255.7 417.2 254.7 416.2 254.2 414.7 254.2 413.7 254.7 412.7 255.7 412.2 257.2 412.2 258.2 412.7 259.7 413.7 260.7 414.7 261.2 416.2 261.2 417.2 260.7 418.2 259.7M425.7 248.7 424.7 249.7 423.7 251.2 422.7 253.2 422.2 255.7 422.2 257.7 422.7 260.2 423.7 262.2 424.7 263.7 425.7 264.7M429.2 261.2 429.2 250.7 433.2 261.2 437.3 250.7 437.3 261.2M441.8 260.4 441.8 264.2M440.2 261.4 443.3 263.2M443.3 261.4 440.2 263.2M446.1 264.8 446.1 265.4 445.8 266 445.5 266.3M446.1 264.8 445.8 264.5 445.5 264.8 445.8 265.1 446.1 264.8M452 260.8 452 265.7 451.7 266.6 451.4 267 450.8 267.3 449.9 267.3 449.2 267M452 261.7 451.4 261.1 450.8 260.8 449.9 260.8 449.2 261.1 448.6 261.7 448.3 262.6 448.3 263.2 448.6 264.2 449.2 264.8 449.9 265.1 450.8 265.1 451.4 264.8 452 264.2M454.5 260.8 454.5 265.1M454.5 262.6 454.8 261.7 455.5 261.1 456.1 260.8 457 260.8M458.6 260.8 458.6 267.3M458.6 261.7 459.2 261.1 459.8 260.8 460.7 260.8 461.4 261.1 462 261.7 462.3 262.6 462.3 263.2 462 264.2 461.4 264.8 460.7 265.1 459.8 265.1 459.2 264.8 458.6 264.2M473.3 248.7 464.2 264.7M476.3 261.2 476.3 250.7 480.3 261.2 484.3 250.7 484.3 261.2M494.1 261.4 493.8 262.7 493.1 263.8 492 264.5 490.7 264.8 489.4 264.5 488.3 263.8 487.5 262.7 487.3 261.4 487.5 260.1 488.3 259 489.4 258.2 490.7 258 492 258.2 493.1 259 493.8 260.1ZM491.2 261.4 491.1 261.8 490.7 261.9 490.3 261.8 490.2 261.4 490.3 261 490.7 260.9 491.1 261ZM496.2 248.7 497.2 249.7 498.2 251.2 499.2 253.2 499.7 255.7 499.7 257.7 499.2 260.2 498.2 262.2 497.2 263.7 496.2 264.7M511.8 252.2 503.8 256.7 511.8 261.2M527.4 261.2 527.4 250.7 525.9 252.2 524.8 252.7M537.4 261.2 537.4 250.7 535.9 252.2 534.9 252.7M544.4 260.2 543.9 260.7 544.4 261.2 544.9 260.7 544.4 260.2M550.5 254.7 552.5 255.2 554 255.7 555 256.7 555.5 257.7 555.5 259.2 555 260.2 554.5 260.7 553 261.2 551 261.2 549.4 260.7 548.9 260.2 548.4 259.2 548.4 257.7 548.9 256.7 549.9 255.7 551.5 255.2 553.5 254.7 554.5 254.2 555 253.2 555 252.2 554.5 251.2 553 250.7 551 250.7 549.4 251.2 548.9 252.2 548.9 253.2 549.4 254.2ZM152.8 284.7 152.8 293.1M152.8 286.5 151.6 285.3 150.4 284.7 148.6 284.7 147.4 285.3 146.1 286.5 145.5 288.3 145.5 289.5 146.1 291.3 147.4 292.5 148.6 293.1 150.4 293.1 151.6 292.5 152.8 291.3M157.1 278.1 158.3 279.3 159.6 281.1 160.8 283.5 161.4 286.5 161.4 288.9 160.8 291.9 159.6 294.3 158.3 296.1 157.1 297.3M152.8 312.6 152.8 321M152.8 314.4 151.6 313.2 150.4 312.6 148.6 312.6 147.4 313.2 146.1 314.4 145.5 316.2 145.5 317.4 146.1 319.2 147.4 320.4 148.6 321 150.4 321 151.6 320.4 152.8 319.2M157.7 308.4 157.7 321M162.6 308.4 162.6 321M168.7 320.4 168.7 321.6 168.1 322.8 167.5 323.4M168.7 320.4 168.1 319.8 167.5 320.4 168.1 321 168.7 320.4M168.1 312.6 167.5 313.2 168.1 313.8 168.7 313.2 168.1 312.6M146.3 324.8 146.3 335.3M150.3 329.8 149.8 331.3 149.8 332.3 150.3 333.8 151.3 334.8 152.3 335.3 153.8 335.3 154.8 334.8 155.8 333.8 156.3 332.3 156.3 331.3 155.8 329.8 154.8 328.8 153.8 328.3 152.3 328.3 151.3 328.8ZM165.4 328.3 165.4 336.3 164.9 337.8 164.4 338.3 163.4 338.8 161.9 338.8 160.9 338.3M165.4 329.8 164.4 328.8 163.4 328.3 161.9 328.3 160.9 328.8 159.9 329.8 159.4 331.3 159.4 332.3 159.9 333.8 160.9 334.8 161.9 335.3 163.4 335.3 164.4 334.8 165.4 333.8M172.9 322.8 171.9 323.8 170.9 325.3 169.9 327.3 169.4 329.8 169.4 331.8 169.9 334.3 170.9 336.3 171.9 337.8 172.9 338.8M176.4 335.3 176.4 324.8 180.4 335.3 184.5 324.8 184.5 335.3M189 334.6 189 338.3M187.4 335.5 190.5 337.3M190.5 335.5 187.4 337.3M201.5 322.8 192.5 338.8M204.5 335.3 204.5 324.8 208.5 335.3 212.5 324.8 212.5 335.3M222.3 335.5 222.1 336.8 221.3 337.9 220.2 338.6 218.9 338.9 217.6 338.6 216.5 337.9 215.7 336.8 215.5 335.5 215.7 334.2 216.5 333.1 217.6 332.3 218.9 332.1 220.2 332.3 221.3 333.1 222.1 334.2ZM219.4 335.5 219.3 335.9 218.9 336 218.5 335.9 218.4 335.5 218.5 335.1 218.9 335 219.3 335.1ZM224.4 322.8 225.5 323.8 226.5 325.3 227.5 327.3 228 329.8 228 331.8 227.5 334.3 226.5 336.3 225.5 337.8 224.4 338.8M232 324.6 240.5 327.6 232 330.6M232 332.5 239.8 332.5M232 335.1 239.8 335.1M247.1 335.3 247.1 324.8 245.6 326.3 244.6 326.8M253.7 326.8 253.2 329.3 253.2 330.8 253.7 333.3 254.7 334.8 256.2 335.3 257.2 335.3 258.7 334.8 259.7 333.3 260.2 330.8 260.2 329.3 259.7 326.8 258.7 325.3 257.2 324.8 256.2 324.8 254.7 325.3ZM264.2 334.3 263.7 334.8 264.2 335.3 264.7 334.8 264.2 334.3M275.3 335.3 268.2 335.3 273.2 330.3 274.2 328.8 274.7 327.8 274.7 326.8 274.2 325.8 273.7 325.3 272.7 324.8 270.7 324.8 269.7 325.3 269.2 325.8 268.7 326.8 268.7 327.3M381.4 308.4 381.4 321M381.4 314.4 382.7 313.2 383.9 312.6 385.7 312.6 386.9 313.2 388.1 314.4 388.8 316.2 388.8 317.4 388.1 319.2 386.9 320.4 385.7 321 383.9 321 382.7 320.4 381.4 319.2M392.4 306 393.6 307.2 394.9 309 396.1 311.4 396.7 314.4 396.7 316.8 396.1 319.8 394.9 322.2 393.6 324 392.4 325.2M381.6 324.8 381.6 335.3M385.6 329.8 385.1 331.3 385.1 332.3 385.6 333.8 386.6 334.8 387.6 335.3 389.1 335.3 390.1 334.8 391.1 333.8 391.6 332.3 391.6 331.3 391.1 329.8 390.1 328.8 389.1 328.3 387.6 328.3 386.6 328.8ZM400.7 328.3 400.7 336.3 400.2 337.8 399.7 338.3 398.7 338.8 397.2 338.8 396.2 338.3M400.7 329.8 399.7 328.8 398.7 328.3 397.2 328.3 396.2 328.8 395.2 329.8 394.7 331.3 394.7 332.3 395.2 333.8 396.2 334.8 397.2 335.3 398.7 335.3 399.7 334.8 400.7 333.8M408.2 322.8 407.2 323.8 406.2 325.3 405.2 327.3 404.7 329.8 404.7 331.8 405.2 334.3 406.2 336.3 407.2 337.8 408.2 338.8M411.7 335.3 411.7 324.8 415.7 335.3 419.8 324.8 419.8 335.3M424.3 334.6 424.3 338.3M422.7 335.5 425.8 337.3M425.8 335.5 422.7 337.3M436.8 322.8 427.8 338.8M439.8 335.3 439.8 324.8 443.8 335.3 447.8 324.8 447.8 335.3M457.6 335.5 457.4 336.8 456.6 337.9 455.5 338.6 454.2 338.9 452.9 338.6 451.8 337.9 451 336.8 450.8 335.5 451 334.2 451.8 333.1 452.9 332.3 454.2 332.1 455.5 332.3 456.6 333.1 457.4 334.2ZM454.7 335.5 454.6 335.9 454.2 336 453.8 335.9 453.7 335.5 453.8 335.1 454.2 335 454.6 335.1ZM459.7 322.8 460.8 323.8 461.8 325.3 462.8 327.3 463.3 329.8 463.3 331.8 462.8 334.3 461.8 336.3 460.8 337.8 459.7 338.8M467.3 326.3 475.3 330.8 467.3 335.3M482.8 335.3 482.8 324.8 481.3 326.3 480.3 326.8M492.9 335.3 492.9 324.8 491.4 326.3 490.4 326.8M499.9 334.3 499.4 334.8 499.9 335.3 500.4 334.8 499.9 334.3M504.4 326.8 503.9 329.3 503.9 330.8 504.4 333.3 505.4 334.8 506.9 335.3 507.9 335.3 509.4 334.8 510.5 333.3 511 330.8 511 329.3 510.5 326.8 509.4 325.3 507.9 324.8 506.9 324.8 505.4 325.3ZM623.5 314.4 622.3 313.2 621.1 312.6 619.3 312.6 618.1 313.2 616.8 314.4 616.2 316.2 616.2 317.4 616.8 319.2 618.1 320.4 619.3 321 621.1 321 622.3 320.4 623.5 319.2M627.2 306 628.4 307.2 629.6 309 630.9 311.4 631.5 314.4 631.5 316.8 630.9 319.8 629.6 322.2 628.4 324 627.2 325.2M616.8 324.8 616.8 335.3M620.8 329.8 620.3 331.3 620.3 332.3 620.8 333.8 621.8 334.8 622.8 335.3 624.3 335.3 625.3 334.8 626.3 333.8 626.8 332.3 626.8 331.3 626.3 329.8 625.3 328.8 624.3 328.3 622.8 328.3 621.8 328.8ZM635.9 328.3 635.9 336.3 635.4 337.8 634.9 338.3 633.9 338.8 632.4 338.8 631.4 338.3M635.9 329.8 634.9 328.8 633.9 328.3 632.4 328.3 631.4 328.8 630.4 329.8 629.9 331.3 629.9 332.3 630.4 333.8 631.4 334.8 632.4 335.3 633.9 335.3 634.9 334.8 635.9 333.8M643.4 322.8 642.4 323.8 641.4 325.3 640.4 327.3 639.9 329.8 639.9 331.8 640.4 334.3 641.4 336.3 642.4 337.8 643.4 338.8M646.9 335.3 646.9 324.8 650.9 335.3 655 324.8 655 335.3M659.5 334.6 659.5 338.3M657.9 335.5 661 337.3M661 335.5 657.9 337.3M672 322.8 663 338.8M675 335.3 675 324.8 679 335.3 683 324.8 683 335.3M692.8 335.5 692.6 336.8 691.8 337.9 690.7 338.6 689.4 338.9 688.1 338.6 687 337.9 686.2 336.8 686 335.5 686.2 334.2 687 333.1 688.1 332.3 689.4 332.1 690.7 332.3 691.8 333.1 692.6 334.2ZM689.9 335.5 689.8 335.9 689.4 336 689 335.9 688.9 335.5 689 335.1 689.4 335 689.8 335.1ZM694.9 322.8 696 323.8 697 325.3 698 327.3 698.5 329.8 698.5 331.8 698 334.3 697 336.3 696 337.8 694.9 338.8M702.5 329.3 711.5 329.3M702.5 332.3 711.5 332.3M719 335.3 719 324.8 717.5 326.3 716.5 326.8M725.6 326.8 725.1 329.3 725.1 330.8 725.6 333.3 726.6 334.8 728.1 335.3 729.1 335.3 730.6 334.8 731.6 333.3 732.1 330.8 732.1 329.3 731.6 326.8 730.6 325.3 729.1 324.8 728.1 324.8 726.6 325.3ZM736.1 334.3 735.6 334.8 736.1 335.3 736.6 334.8 736.1 334.3M740.6 331.8 740.6 329.3 741.1 326.8 742.1 325.3 743.6 324.8 744.6 324.8 746.2 325.3 746.7 326.3M740.6 331.8 741.1 333.8 742.1 334.8 743.6 335.3 744.1 335.3 745.7 334.8 746.7 333.8 747.2 332.3 747.2 331.8 746.7 330.3 745.7 329.3 744.1 328.8 743.6 328.8 742.1 329.3 741.1 330.3ZM750.7 330.8 759.7 330.8M767.2 335.3 767.2 324.8 765.7 326.3 764.7 326.8M777.3 335.3 777.3 324.8 775.8 326.3 774.8 326.8M784.3 334.3 783.8 334.8 784.3 335.3 784.8 334.8 784.3 334.3M788.8 326.8 788.3 329.3 788.3 330.8 788.8 333.3 789.8 334.8 791.3 335.3 792.3 335.3 793.8 334.8 794.8 333.3 795.3 330.8 795.3 329.3 794.8 326.8 793.8 325.3 792.3 324.8 791.3 324.8 789.8 325.3ZM858.9 308.4 858.9 321M858.9 314.4 857.7 313.2 856.5 312.6 854.7 312.6 853.5 313.2 852.2 314.4 851.6 316.2 851.6 317.4 852.2 319.2 853.5 320.4 854.7 321 856.5 321 857.7 320.4 858.9 319.2M863.2 306 864.4 307.2 865.7 309 866.9 311.4 867.5 314.4 867.5 316.8 866.9 319.8 865.7 322.2 864.4 324 863.2 325.2M852.3 324.8 852.3 335.3M856.3 329.8 855.8 331.3 855.8 332.3 856.3 333.8 857.3 334.8 858.3 335.3 859.8 335.3 860.8 334.8 861.8 333.8 862.3 332.3 862.3 331.3 861.8 329.8 860.8 328.8 859.8 328.3 858.3 328.3 857.3 328.8ZM871.4 328.3 871.4 336.3 870.9 337.8 870.4 338.3 869.4 338.8 867.9 338.8 866.9 338.3M871.4 329.8 870.4 328.8 869.4 328.3 867.9 328.3 866.9 328.8 865.9 329.8 865.4 331.3 865.4 332.3 865.9 333.8 866.9 334.8 867.9 335.3 869.4 335.3 870.4 334.8 871.4 333.8M878.9 322.8 877.9 323.8 876.9 325.3 875.9 327.3 875.4 329.8 875.4 331.8 875.9 334.3 876.9 336.3 877.9 337.8 878.9 338.8M882.4 335.3 882.4 324.8 886.4 335.3 890.5 324.8 890.5 335.3M895 334.6 895 338.3M893.4 335.5 896.5 337.3M896.5 335.5 893.4 337.3M907.5 322.8 898.5 338.8M910.5 335.3 910.5 324.8 914.5 335.3 918.5 324.8 918.5 335.3M928.3 335.5 928.1 336.8 927.3 337.9 926.2 338.6 924.9 338.9 923.6 338.6 922.5 337.9 921.7 336.8 921.5 335.5 921.7 334.2 922.5 333.1 923.6 332.3 924.9 332.1 926.2 332.3 927.3 333.1 928.1 334.2ZM925.4 335.5 925.3 335.9 924.9 336 924.5 335.9 924.4 335.5 924.5 335.1 924.9 335 925.3 335.1ZM930.4 322.8 931.5 323.8 932.5 325.3 933.5 327.3 934 329.8 934 331.8 933.5 334.3 932.5 336.3 931.5 337.8 930.4 338.8M938 329.3 947 329.3M938 332.3 947 332.3M954.5 335.3 954.5 324.8 953 326.3 952 326.8M961.1 326.8 960.6 329.3 960.6 330.8 961.1 333.3 962.1 334.8 963.6 335.3 964.6 335.3 966.1 334.8 967.1 333.3 967.6 330.8 967.6 329.3 967.1 326.8 966.1 325.3 964.6 324.8 963.6 324.8 962.1 325.3ZM971.6 334.3 971.1 334.8 971.6 335.3 972.1 334.8 971.6 334.3M982.7 335.3 975.6 335.3 980.6 330.3 981.7 328.8 982.2 327.8 982.2 326.8 981.7 325.8 981.2 325.3 980.1 324.8 978.1 324.8 977.1 325.3 976.6 325.8 976.1 326.8 976.1 327.3M986.2 330.8 995.2 330.8M1002.7 335.3 1002.7 324.8 1001.2 326.3 1000.2 326.8M1009.3 326.8 1008.8 329.3 1008.8 330.8 1009.3 333.3 1010.3 334.8 1011.8 335.3 1012.8 335.3 1014.3 334.8 1015.3 333.3 1015.8 330.8 1015.8 329.3 1015.3 326.8 1014.3 325.3 1012.8 324.8 1011.8 324.8 1010.3 325.3ZM1019.8 334.3 1019.3 334.8 1019.8 335.3 1020.3 334.8 1019.8 334.3M1024.3 331.8 1024.3 329.3 1024.8 326.8 1025.8 325.3 1027.3 324.8 1028.3 324.8 1029.8 325.3 1030.3 326.3M1024.3 331.8 1024.8 333.8 1025.8 334.8 1027.3 335.3 1027.8 335.3 1029.3 334.8 1030.3 333.8 1030.8 332.3 1030.8 331.8 1030.3 330.3 1029.3 329.3 1027.8 328.8 1027.3 328.8 1025.8 329.3 1024.8 330.3Z" stroke="#000" stroke-width="2.35" stroke-linejoin="miter" stroke-miterlimit="2.5"/>
</svg></body></html>
